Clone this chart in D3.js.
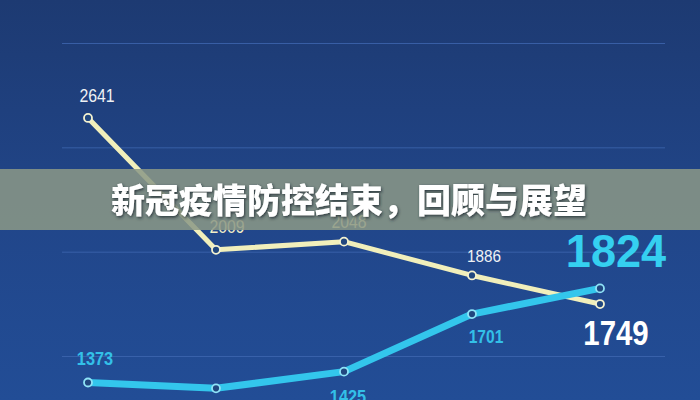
<!DOCTYPE html>
<html>
<head>
<meta charset="utf-8">
<script src="https://cdn.jsdelivr.net/npm/d3@7"></script>
<style>
  html, body { margin: 0; padding: 0; background: #1f3f78; }
  svg { display: block; }
</style>
</head>
<body>
<svg id="chart" width="700" height="400"></svg>
<script>
// ---- data ----
const categories = ["P1", "P2", "P3", "P4", "P5"];
const seriesA = [2641, 2009, 2048, 1886, 1749];   // cream line
const seriesB = [1373, 1345, 1425, 1701, 1824];   // cyan line
const gridTicks = [1500, 2000, 2500, 3000];
const title = "新冠疫情防控结束，回顾与展望";

// ---- layout ----
const W = 700, H = 400;
const svg = d3.select("#chart");

const defs = svg.append("defs");
const bg = defs.append("linearGradient").attr("id", "bg")
  .attr("x1", 0).attr("y1", 0).attr("x2", 0).attr("y2", 1);
bg.append("stop").attr("offset", "0%").attr("stop-color", "#1d3a72");
bg.append("stop").attr("offset", "55%").attr("stop-color", "#21468a");
bg.append("stop").attr("offset", "100%").attr("stop-color", "#224d96");

const shadow = defs.append("filter").attr("id", "ts")
  .attr("x", "-10%").attr("y", "-30%").attr("width", "120%").attr("height", "160%");
shadow.append("feDropShadow").attr("dx", 1).attr("dy", 1.5).attr("stdDeviation", 1.5)
  .attr("flood-color", "#1c2a30").attr("flood-opacity", 0.85);

svg.append("rect").attr("width", W).attr("height", H).attr("fill", "url(#bg)");

const x = d3.scalePoint().domain(categories).range([88, 600]);
const y = d3.scaleLinear().domain([1500, 3000]).range([356, 43]);

// grid lines
const gridAxis = d3.axisLeft(y).tickValues(gridTicks).tickSize(-603).tickFormat("");
const g = svg.append("g").attr("transform", "translate(62,0)").call(gridAxis);
g.select(".domain").remove();
g.selectAll(".tick line").attr("stroke", "#3f67b0").attr("stroke-width", 1).attr("opacity", 0.8);

const line = d3.line().x((d, i) => x(categories[i])).y(d => y(d));

// cream line
svg.append("path").datum(seriesA).attr("d", line)
  .attr("fill", "none").attr("stroke", "#f1efbb").attr("stroke-width", 5)
  .attr("stroke-linejoin", "round").attr("stroke-linecap", "round");
// cyan line
svg.append("path").datum(seriesB).attr("d", line)
  .attr("fill", "none").attr("stroke", "#33c6ec").attr("stroke-width", 7)
  .attr("stroke-linejoin", "round").attr("stroke-linecap", "round");

function points(data, stroke) {
  svg.append("g").selectAll("circle").data(data).join("circle")
    .attr("cx", (d, i) => x(categories[i])).attr("cy", d => y(d))
    .attr("r", 4).attr("fill", "#21477f").attr("stroke", stroke).attr("stroke-width", 1.8);
}
points(seriesA, "#f4f2d0");
points(seriesB, "#8fe3f7");

// labels (offset from points)
const labelStyleA = [
  { dx: 9, dy: -16, size: 18, weight: 400, color: "#eef1f4", sx: 0.88 },
  { dx: 11, dy: -17, size: 18, weight: 400, color: "#f3efc8", sx: 0.88 },
  { dx: 5, dy: -14, size: 18, weight: 400, color: "#f3efc8", sx: 0.88 },
  { dx: 12, dy: -13, size: 17, weight: 400, color: "#eef1f4", sx: 0.9 },
  { dx: 16, dy: 41, size: 35, weight: 700, color: "#ffffff", sx: 0.84 }
];
const labelStyleB = [
  { dx: 7, dy: -18, size: 19, weight: 700, color: "#33c0e8", sx: 0.86 },
  null,
  { dx: 4, dy: 31, size: 19, weight: 700, color: "#33c0e8", sx: 0.86 },
  { dx: 14, dy: 29, size: 19, weight: 700, color: "#33c0e8", sx: 0.82 },
  { dx: 16, dy: -21, size: 46, weight: 700, color: "#35d0f0", sx: 0.98 }
];
function labels(data, styles) {
  data.forEach((v, i) => {
    const s = styles[i];
    if (!s) return;
    svg.append("text")
      .attr("transform", `translate(${x(categories[i]) + s.dx},${y(v) + s.dy}) scale(${s.sx},1)`)
      .attr("text-anchor", "middle")
      .attr("font-family", "'Liberation Sans', Arial, sans-serif")
      .attr("font-size", s.size).attr("font-weight", s.weight)
      .attr("fill", s.color)
      .text(v);
  });
}
labels(seriesA, labelStyleA);
labels(seriesB, labelStyleB);

// title banner
svg.append("rect").attr("x", 0).attr("y", 169).attr("width", W).attr("height", 61)
  .attr("fill", "#8c9886").attr("opacity", 0.86);
svg.append("text")
  .attr("x", 349).attr("y", 213)
  .attr("text-anchor", "middle")
  .attr("font-family", "'Noto Sans CJK SC', sans-serif")
  .attr("font-size", 34).attr("font-weight", 900)
  .attr("fill", "#ffffff")
  .attr("filter", "url(#ts)")
  .text(title);
</script>
</body>
</html>
